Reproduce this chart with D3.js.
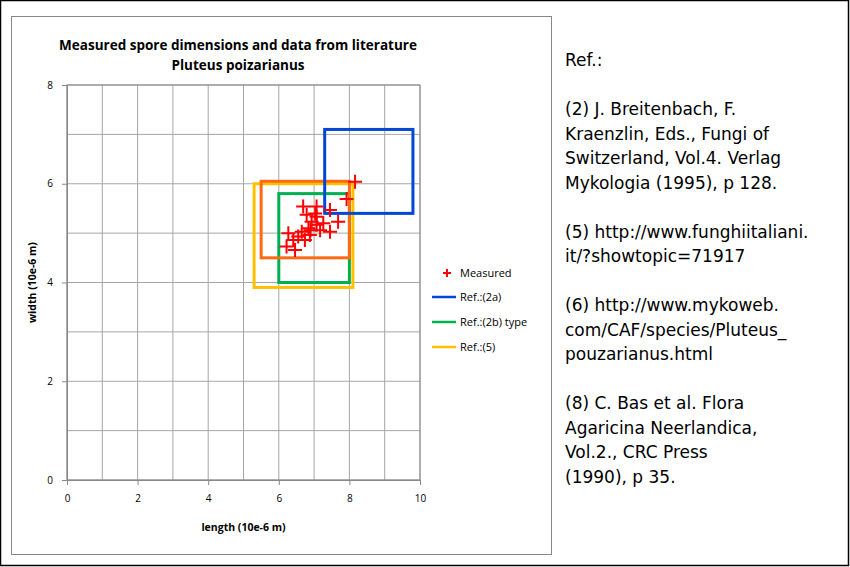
<!DOCTYPE html>
<html><head><meta charset="utf-8">
<script src="https://cdn.jsdelivr.net/npm/d3@7"></script>
<style>body{margin:0;background:#fff}</style>
</head><body><svg id="c" width="850" height="567"></svg>
<script>
const measured = [
  [8.16,6.04],[7.92,5.69],[6.69,5.54],[7.07,5.54],[7.45,5.47],[7.68,5.23],[6.79,5.37],
  [7.07,5.33],[7.26,5.2],[6.93,5.23],[7.07,5.17],[6.84,5.1],[7.45,5.03],[7.17,5.06],
  [6.65,5.03],[6.27,5.0],[6.55,4.93],[6.88,4.96],[6.74,4.86],[6.41,4.86],[6.22,4.73],
  [6.46,4.66],[7.03,5.4],[6.9,5.06]
];
// boxes: [xmin, xmax, ymin, ymax]
const refBoxes = [
  {name: 'Ref.:(5)', color: '#ffc000', box: [5.3, 8.1, 3.9, 6.0]},
  {name: 'Ref.:(2b) type', color: '#00b050', box: [6.0, 8.0, 4.0, 5.8]},
  {name: '', color: '#ff6a13', box: [5.5, 8.0, 4.5, 6.05]},
  {name: 'Ref.:(2a)', color: '#0047d6', box: [7.3, 9.8, 5.4, 7.1]}
];
const legendOrder = ['Ref.:(2a)', 'Ref.:(2b) type', 'Ref.:(5)'];
const xTicks = [0, 2, 4, 6, 8, 10];
const yTicks = [0, 2, 4, 6, 8];
const refText = ['Ref.:', '', '(2) J. Breitenbach, F.', 'Kraenzlin, Eds., Fungi of', 'Switzerland, Vol.4. Verlag',
  'Mykologia (1995), p 128.', '', '(5) http://www.funghiitaliani.', 'it/?showtopic=71917', '',
  '(6) http://www.mykoweb.', 'com/CAF/species/Pluteus_', 'pouzarianus.html', '',
  '(8) C. Bas et al. Flora', 'Agaricina Neerlandica,', 'Vol.2., CRC Press', '(1990), p 35.'];

const svg = d3.select('#c');
const font = 'Open Sans, DejaVu Sans, sans-serif';
svg.append('rect').attr('x', 0.5).attr('y', 0.5).attr('width', 848).attr('height', 565)
  .attr('fill', '#fff').attr('stroke', '#000').attr('stroke-width', 1.5);
svg.append('rect').attr('x', 11.5).attr('y', 16.5).attr('width', 540).attr('height', 538)
  .attr('fill', '#fff').attr('stroke', '#888');

const x = d3.scaleLinear().domain([0, 10]).range([67, 420]);
const y = d3.scaleLinear().domain([0, 8]).range([480, 85]);

// grid
const g = svg.append('g');
g.selectAll('.vx').data(d3.range(0, 11)).enter().append('line')
  .attr('x1', d => x(d)).attr('x2', d => x(d)).attr('y1', y(0)).attr('y2', y(8))
  .attr('stroke', '#a6a6a6');
g.selectAll('.hy').data(d3.range(0, 9)).enter().append('line')
  .attr('x1', x(0)).attr('x2', x(10)).attr('y1', d => y(d)).attr('y2', d => y(d))
  .attr('stroke', '#a6a6a6');
g.append('rect').attr('x', x(0)).attr('y', y(8)).attr('width', x(10) - x(0)).attr('height', y(0) - y(8))
  .attr('fill', 'none').attr('stroke', '#888');

const xa = svg.append('g').attr('transform', `translate(0,${y(0)})`)
  .call(d3.axisBottom(x).tickValues(xTicks).tickSize(5).tickFormat(d3.format('d')));
const ya = svg.append('g').attr('transform', `translate(${x(0)},0)`)
  .call(d3.axisLeft(y).tickValues(yTicks).tickSize(5).tickFormat(d3.format('d')));
[xa, ya].forEach(a => {
  a.select('.domain').attr('stroke', '#888');
  a.selectAll('line').attr('stroke', '#888');
  a.selectAll('text').style('font-family', font).style('font-size', '10px').attr('fill', '#000');
});
xa.selectAll('text').attr('dy', '1.4em');
ya.selectAll('text').attr('dx', '-0.6em');

// reference boxes
svg.selectAll('.box').data(refBoxes).enter().append('rect')
  .attr('x', d => x(d.box[0])).attr('y', d => y(d.box[3]))
  .attr('width', d => x(d.box[1]) - x(d.box[0])).attr('height', d => y(d.box[2]) - y(d.box[3]))
  .attr('fill', 'none').attr('stroke', d => d.color).attr('stroke-width', 3);

// measured crosses
svg.selectAll('.m').data(measured).enter().append('path')
  .attr('d', 'M-7,0H7M0,-7V7')
  .attr('transform', d => `translate(${x(d[0])},${y(d[1])})`)
  .attr('stroke', '#ff0000').attr('stroke-width', 2);

// titles
svg.append('text').attr('x', 238).attr('y', 50).attr('text-anchor', 'middle')
  .style('font-family', font).style('font-size', '13.5px').style('font-weight', 'bold')
  .text('Measured spore dimensions and data from literature');
svg.append('text').attr('x', 238).attr('y', 70).attr('text-anchor', 'middle')
  .style('font-family', font).style('font-size', '13.5px').style('font-weight', 'bold')
  .text('Pluteus poizarianus');
svg.append('text').attr('x', (x(0) + x(10)) / 2).attr('y', 531).attr('text-anchor', 'middle')
  .style('font-family', font).style('font-size', '10.5px').style('font-weight', 'bold')
  .text('length (10e-6 m)');
svg.append('text').attr('transform', `translate(36,${(y(0) + y(8)) / 2}) rotate(-90)`)
  .attr('text-anchor', 'middle')
  .style('font-family', font).style('font-size', '10.5px').style('font-weight', 'bold')
  .text('width (10e-6 m)');

// legend
const lg = svg.append('g').style('font-family', font).style('font-size', '11px');
lg.append('path').attr('d', 'M-4,0H4M0,-4V4').attr('transform', 'translate(447,273)')
  .attr('stroke', '#ff0000').attr('stroke-width', 2);
lg.append('text').attr('x', 460).attr('y', 277).text('Measured');
legendOrder.forEach((n, i) => {
  const r = refBoxes.find(b => b.name === n);
  const yy = 297 + i * 25;
  lg.append('line').attr('x1', 432).attr('x2', 456).attr('y1', yy).attr('y2', yy)
    .attr('stroke', r.color).attr('stroke-width', 2.5);
  lg.append('text').attr('x', 460).attr('y', yy + 4).text(n);
});

// reference text
svg.append('g').selectAll('text').data(refText).enter().append('text')
  .attr('x', 565).attr('y', (d, i) => 66 + i * 24.5)
  .style('font-family', 'DejaVu Sans, sans-serif').style('font-size', '17px')
  .text(d => d);
</script></body></html>
